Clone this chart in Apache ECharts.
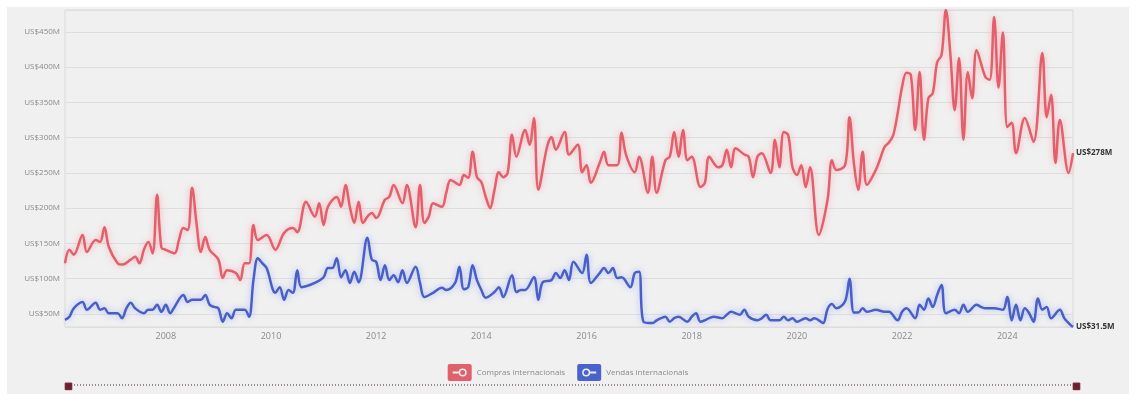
<!DOCTYPE html>
<html>
<head>
<meta charset="utf-8">
<script src="https://cdn.jsdelivr.net/npm/echarts@6/dist/echarts.min.js"></script>
<style>
  html, body { margin: 0; padding: 0; background: #fff; }
  #chart {
    width: 1136px; height: 394px;
    background: linear-gradient(#f0f0f0, #f0f0f0) 7px 7px / 1122px 387px no-repeat;
  }
</style>
</head>
<body>
<div id="chart"></div>
<script>
// Compras internacionais (US$ milhões)
var buyMonths = ["2006-02","2006-03","2006-04","2006-06","2006-07","2006-09","2006-10","2006-11","2006-12","2007-02","2007-03","2007-05","2007-06","2007-07","2007-08","2007-09","2007-10","2007-11","2007-12","2008-01","2008-03","2008-04","2008-05","2008-06","2008-07","2008-08","2008-09","2008-10","2008-11","2009-01","2009-02","2009-03","2009-05","2009-06","2009-07","2009-08","2009-09","2009-10","2009-12","2010-02","2010-04","2010-06","2010-07","2010-09","2010-11","2010-12","2011-01","2011-02","2011-04","2011-05","2011-06","2011-07","2011-08","2011-09","2011-10","2011-11","2011-12","2012-01","2012-03","2012-04","2012-05","2012-07","2012-08","2012-10","2012-11","2012-12","2013-01","2013-02","2013-04","2013-05","2013-06","2013-08","2013-09","2013-10","2013-11","2013-12","2014-01","2014-02","2014-03","2014-04","2014-05","2014-06","2014-07","2014-08","2014-09","2014-11","2014-12","2015-01","2015-02","2015-04","2015-05","2015-06","2015-08","2015-09","2015-11","2015-12","2016-01","2016-02","2016-04","2016-05","2016-06","2016-08","2016-09","2016-10","2016-12","2017-01","2017-03","2017-04","2017-05","2017-07","2017-08","2017-09","2017-10","2017-11","2017-12","2018-01","2018-03","2018-04","2018-05","2018-07","2018-08","2018-09","2018-10","2018-11","2019-01","2019-02","2019-03","2019-04","2019-05","2019-07","2019-08","2019-09","2019-10","2019-11","2019-12","2020-01","2020-02","2020-03","2020-04","2020-06","2020-08","2020-09","2020-10","2020-12","2021-01","2021-02","2021-03","2021-04","2021-05","2021-07","2021-08","2021-09","2021-10","2021-11","2021-12","2022-01","2022-02","2022-03","2022-04","2022-05","2022-06","2022-07","2022-08","2022-09","2022-10","2022-11","2022-12","2023-01","2023-02","2023-03","2023-04","2023-05","2023-06","2023-08","2023-09","2023-10","2023-11","2023-12","2024-01","2024-02","2024-03","2024-05","2024-07","2024-09","2024-10","2024-11","2024-12","2025-01","2025-03","2025-04"];
var buyValues = [122,141,134,162,138,155,152,173,145,122,120,127,131,122,141,152,136,219,144,141,136,155,172,169,229,179,138,159,141,127,101,112,108,98,122,122,176,155,162,141,165,172,166,209,188,207,176,202,216,202,233,202,179,209,179,188,193,186,212,216,233,207,233,173,233,179,188,207,202,222,240,233,247,243,280,244,237,216,200,226,251,244,250,304,273,311,290,328,226,287,301,283,308,276,290,251,261,236,264,280,261,261,307,276,251,273,222,273,222,268,273,308,273,311,268,273,230,236,273,258,261,283,258,285,276,273,244,273,278,250,297,258,308,304,258,247,261,230,258,162,212,268,254,261,329,264,226,280,233,254,270,287,293,304,335,372,392,389,311,393,297,356,363,407,417,481,420,339,413,297,393,356,424,386,382,471,371,449,315,321,278,328,294,420,329,361,264,325,250,278];

// Vendas internacionais (US$ milhões)
var sellMonths = ["2006-02","2006-03","2006-04","2006-06","2006-07","2006-09","2006-10","2006-11","2006-12","2007-02","2007-03","2007-04","2007-05","2007-06","2007-08","2007-09","2007-10","2007-11","2007-12","2008-01","2008-02","2008-03","2008-05","2008-06","2008-07","2008-09","2008-10","2008-11","2008-12","2009-01","2009-02","2009-03","2009-04","2009-05","2009-07","2009-08","2009-09","2009-10","2009-11","2009-12","2010-02","2010-03","2010-04","2010-05","2010-06","2010-07","2010-08","2010-11","2011-01","2011-02","2011-03","2011-04","2011-05","2011-06","2011-07","2011-08","2011-09","2011-11","2011-12","2012-01","2012-02","2012-03","2012-04","2012-05","2012-06","2012-07","2012-08","2012-10","2012-11","2012-12","2013-02","2013-04","2013-05","2013-07","2013-08","2013-09","2013-10","2013-11","2013-12","2014-01","2014-02","2014-04","2014-05","2014-06","2014-08","2014-09","2014-10","2014-11","2015-01","2015-02","2015-03","2015-05","2015-06","2015-07","2015-08","2015-09","2015-10","2015-12","2016-01","2016-02","2016-04","2016-05","2016-06","2016-07","2016-08","2016-09","2016-11","2016-12","2017-01","2017-02","2017-04","2017-05","2017-06","2017-07","2017-08","2017-09","2017-10","2017-12","2018-01","2018-02","2018-03","2018-05","2018-06","2018-08","2018-09","2018-10","2018-12","2019-01","2019-02","2019-04","2019-05","2019-06","2019-07","2019-09","2019-10","2019-11","2019-12","2020-01","2020-03","2020-04","2020-05","2020-06","2020-07","2020-08","2020-09","2020-10","2020-12","2021-01","2021-02","2021-03","2021-04","2021-05","2021-07","2021-09","2021-10","2021-12","2022-01","2022-02","2022-04","2022-05","2022-06","2022-07","2022-08","2022-09","2022-10","2022-11","2023-01","2023-02","2023-03","2023-04","2023-06","2023-07","2023-08","2023-10","2023-12","2024-01","2024-02","2024-03","2024-04","2024-05","2024-06","2024-07","2024-08","2024-09","2024-10","2024-11","2025-01","2025-02","2025-03","2025-04"];
var sellValues = [41.5,46,58,67,56,66,56,58,51,51,44,58,66,58,51,56,56,63,53,63,51,60,77,67,70,70,77,63,60,58,39,51,44,56,56,46,98,129,122,115,80,88,70,84,80,112,88,94,102,115,115,129,102,112,94,110,95,158,127,124,98,119,98,105,95,112,94,117,94,74,80,87,84,94,117,85,88,119,98,84,73,81,88,74,105,81,84,84,102,70,95,98,108,101,112,98,124,108,134,94,108,115,108,115,101,102,88,108,110,39,37,41,44,46,39,44,46,39,46,51,39,44,46,44,49,53,49,56,46,41,44,49,41,41,46,41,44,39,44,41,44,41,37,57,64,58,68,100,52,52,58,53,56,53,53,41,53,58,44,63,56,72,60,77,91,51,56,51,63,53,63,60,58,58,56,74,41,63,41,58,51,39,72,56,60,44,56,44,37,31.5];

var seriesNames = ["Compras internacionais", "Vendas internacionais"];

function toYear(s) {
    var p = s.split("-");
    return +p[0] + (+p[1] - 1) / 12;
}
function pairs(months, values) {
    return months.map(function(m, i) { return [toYear(m), values[i]]; });
}
function money(v) { return "US$" + v + "M"; }

var buyIcon = "path://M2,0H22Q24,0 24,2V15Q24,17 22,17H2Q0,17 0,15V2Q0,0 2,0Z M5,7.5V9.5H11V7.5Z M19,8.5A4,4 0 1 0 11,8.5A4,4 0 1 0 19,8.5Z M17.5,8.5A2.5,2.5 0 1 1 12.5,8.5A2.5,2.5 0 1 1 17.5,8.5Z";
var sellIcon = "path://M2,0H22Q24,0 24,2V15Q24,17 22,17H2Q0,17 0,15V2Q0,0 2,0Z M13,8.5A4,4 0 1 0 5,8.5A4,4 0 1 0 13,8.5Z M11.5,8.5A2.5,2.5 0 1 1 6.5,8.5A2.5,2.5 0 1 1 11.5,8.5Z M13,7.5V9.5H19V7.5Z";

var chart = echarts.init(document.getElementById("chart"));
var font = "'Open Sans', Roboto, sans-serif";

chart.setOption({
    animation: false,
    textStyle: { fontFamily: font },
    grid: {
        left: 65, right: 63, top: 10, bottom: 67,
        show: true, borderColor: "#dadada", borderWidth: 1
    },
    legend: {
        top: 359,
        left: "center",
        itemWidth: 24,
        itemHeight: 17,
        itemGap: 12,
        textStyle: { color: "#8a8a8a", fontSize: 8 },
        data: [
            { name: seriesNames[0], icon: buyIcon },
            { name: seriesNames[1], icon: sellIcon }
        ]
    },
    xAxis: {
        type: "value",
        min: "dataMin",
        max: "dataMax",
        splitNumber: 10,
        axisLine: { show: false },
        axisTick: { show: false },
        splitLine: { show: false },
        axisLabel: {
            color: "#8a8a8a", fontSize: 9, margin: 5,
            showMinLabel: false, showMaxLabel: false,
            formatter: function(v) { return String(Math.round(v)); }
        }
    },
    yAxis: {
        type: "value",
        min: "dataMin",
        max: "dataMax",
        splitNumber: 9,
        axisLine: { show: false },
        axisTick: { show: false },
        splitLine: { lineStyle: { color: "#dedede", width: 1 } },
        axisLabel: {
            color: "#8a8a8a", fontSize: 8, margin: 5,
            showMinLabel: false, showMaxLabel: false,
            formatter: money
        }
    },
    dataZoom: [{
        type: "slider",
        left: 65, right: 61, bottom: 6, height: 6,
        backgroundColor: "transparent",
        borderColor: "transparent",
        fillerColor: "transparent",
        showDetail: false,
        brushSelect: false,
        moveHandleSize: 0,
        handleIcon: "path://M0,0H10V10H0Z",
        handleSize: "110%",
        handleStyle: { color: "#6e1f2d", borderColor: "#6e1f2d" },
        dataBackground: { lineStyle: { opacity: 0 }, areaStyle: { opacity: 0 } },
        selectedDataBackground: { lineStyle: { opacity: 0 }, areaStyle: { opacity: 0 } }
    }],
    graphic: [{
        type: "line",
        z: -1,
        shape: { x1: 68, y1: 385, x2: 1072, y2: 385 },
        style: { stroke: "#9a8a8c", lineWidth: 2, lineDash: [1, 2] }
    }],
    series: [{
        name: seriesNames[0],
        type: "line",
        data: pairs(buyMonths, buyValues),
        smooth: 0.35,
        showSymbol: false,
        color: "#e0606c",
        lineStyle: { width: 2.5, color: "#e0606c", shadowBlur: 6, shadowColor: "rgba(255,130,140,0.6)" },
        endLabel: {
            show: true, distance: 3,
            formatter: function(p) { return money(p.value[1]); },
            color: "#333", fontSize: 8, fontWeight: "bold"
        }
    }, {
        name: seriesNames[1],
        type: "line",
        data: pairs(sellMonths, sellValues),
        smooth: 0.35,
        showSymbol: false,
        color: "#4a63cc",
        lineStyle: { width: 2.5, color: "#4a5fc4", shadowBlur: 6, shadowColor: "rgba(120,150,255,0.6)" },
        endLabel: {
            show: true, distance: 3,
            formatter: function(p) { return money(p.value[1]); },
            color: "#333", fontSize: 8, fontWeight: "bold"
        }
    }]
});
</script>
</body>
</html>
